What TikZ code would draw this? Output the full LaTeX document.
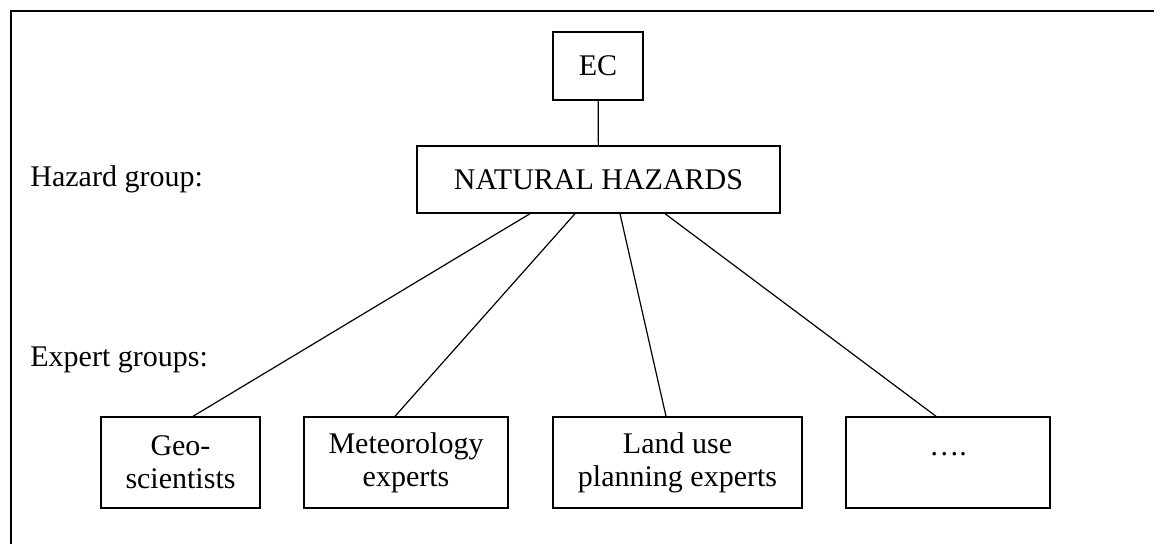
\documentclass[tikz,border=0pt]{standalone}
\usepackage{fontspec}
\setmainfont{Liberation Serif}
\tikzset{
  panel/.style={line width=1pt},
  topbox/.style={draw, line width=0.7pt, minimum width=45pt, minimum height=34pt, inner sep=0pt},
  hazardbox/.style={draw, line width=0.7pt, minimum width=181.5pt, minimum height=33.5pt, inner sep=0pt},
  expertbox/.style={draw, line width=0.7pt, minimum height=45.5pt, inner sep=0pt, align=center},
  groupname/.style={anchor=base west, inner sep=0pt},
  link/.style={line width=0.6pt}
}

\begin{document}
\begin{tikzpicture}[x=0.5pt, y=-0.5pt, font=\fontsize{15}{16.5}\selectfont]
  \useasboundingbox (0,0) rectangle (1154,544);
  \draw[panel] (11,544) -- (11,11) -- (1154,11);

  \node[groupname] (hazardlabel) at (30,187) {Hazard group:};
  \node[groupname] (expertlabel) at (30,367) {Expert groups:};

  \node[topbox] (ec) at (598,66) {EC};
  \node[hazardbox] (nh) at (598.5,179.5) {NATURAL HAZARDS};

  \node[expertbox, minimum width=79.5pt] (geo) at (180.5,462.5) {Geo-\\scientists};
  \node[expertbox, minimum width=102pt] (meteo) at (406,462.5) {Meteorology\\experts};
  \node[expertbox, minimum width=124.5pt] (landuse) at (677.5,462.5) {Land use\\planning experts};
  \node[expertbox, minimum width=102pt, text height=2pt, text depth=9pt] (more) at (948,462.5) {….};

  \draw[link] (ec) -- (nh);
  \draw[link] ([xshift=-34.25pt]nh.south) -- ([xshift=6.25pt]geo.north);
  \draw[link] ([xshift=-11.75pt]nh.south) -- ([xshift=-5.5pt]meteo.north);
  \draw[link] ([xshift=10.75pt]nh.south) -- ([xshift=-5.75pt]landuse.north);
  \draw[link] ([xshift=33.25pt]nh.south) -- ([xshift=-6pt]more.north);
\end{tikzpicture}
\end{document}
